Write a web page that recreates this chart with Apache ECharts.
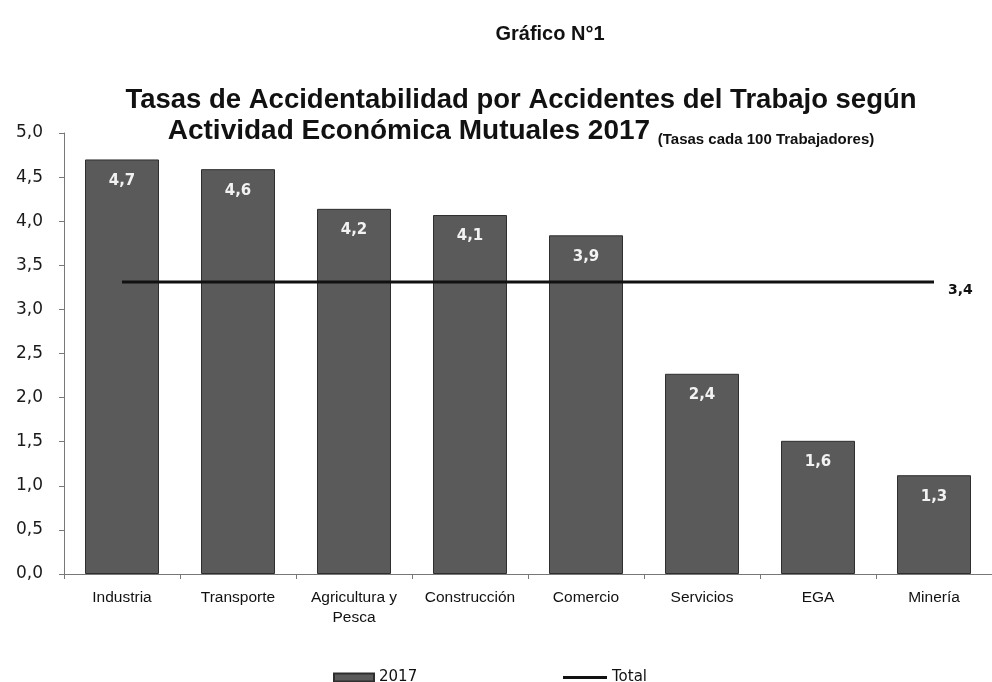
<!DOCTYPE html>
<html>
<head>
<meta charset="utf-8">
<script src="https://cdn.jsdelivr.net/npm/echarts@6/dist/echarts.min.js"></script>
<style>html,body{margin:0;padding:0;background:#fff;}#c{width:992px;height:682px;}</style>
</head>
<body>
<div id="c"></div>
<script>
var categories = ['Industria', 'Transporte', 'Agricultura y\nPesca', 'Construcción', 'Comercio', 'Servicios', 'EGA', 'Minería'];
// bar heights as drawn in the picture
var bars2017 = [4.70, 4.59, 4.14, 4.07, 3.84, 2.27, 1.51, 1.12];
// value labels printed on the bars
var barLabels = ['4,7', '4,6', '4,2', '4,1', '3,9', '2,4', '1,6', '1,3'];
// Total line as drawn, and its printed label
var totalLine = [3.31, 3.31, 3.31, 3.31, 3.31, 3.31, 3.31, 3.31];
var totalLabel = '3,4';
var yTicks = [0, 0.5, 1, 1.5, 2, 2.5, 3, 3.5, 4, 4.5, 5];

var chart = echarts.init(document.getElementById('c'));
chart.setOption({
  animation: false,
  backgroundColor: '#ffffff',
  title: [{
    text: 'Gráfico N°1',
    left: 545, top: 19, textAlign: 'center',
    textStyle: {fontFamily: 'Liberation Sans', fontWeight: 'bold', fontSize: 20, color: '#111'}
  }, {
    text: 'Tasas de Accidentabilidad por Accidentes del Trabajo según\n{a|Actividad Económica Mutuales 2017} {b|(Tasas cada 100 Trabajadores)}',
    left: 516, top: 80, textAlign: 'center',
    textStyle: {fontFamily: 'Liberation Sans', fontWeight: 'bold', fontSize: 27.5, color: '#111', lineHeight: 31,
      rich: {
        a: {fontFamily: 'Liberation Sans', fontWeight: 'bold', fontSize: 28, color: '#111', lineHeight: 31},
        b: {fontFamily: 'Liberation Sans', fontWeight: 'bold', fontSize: 15, color: '#111', lineHeight: 31, verticalAlign: 'bottom'}
      }
    }
  }],
  legend: [{
    left: 328, top: 665,
    itemWidth: 40, itemHeight: 8,
    textStyle: {fontFamily: 'DejaVu Sans', fontSize: 15, color: '#111'},
    data: [{name: '2017', icon: 'rect'}]
  }, {
    left: 558, top: 665,
    itemWidth: 44, itemHeight: 3,
    textStyle: {fontFamily: 'DejaVu Sans', fontSize: 15, color: '#111'},
    data: [{name: 'Total', icon: 'rect', itemStyle: {color: '#111'}}]
  }],
  grid: {left: 64, right: -8, top: 133, bottom: 108, containLabel: false},
  xAxis: {
    type: 'category',
    data: categories,
    boundaryGap: true,
    axisLine: {lineStyle: {color: '#777', width: 1}},
    axisTick: {show: true, alignWithLabel: false, length: 5, lineStyle: {color: '#777'}},
    axisLabel: {fontFamily: 'Liberation Sans', fontSize: 15.5, color: '#111', margin: 14, lineHeight: 20, interval: 0}
  },
  yAxis: {
    type: 'value',
    min: 0, max: 5, interval: 0.5,
    axisLine: {show: true, lineStyle: {color: '#777', width: 1}},
    axisTick: {show: true, length: 5, lineStyle: {color: '#777'}},
    splitLine: {show: false},
    axisLabel: {
      fontFamily: 'DejaVu Sans', fontSize: 17, color: '#1a1a1a', margin: 21,
      formatter: function (v) { return v.toFixed(1).replace('.', ','); }
    }
  },
  series: [{
    name: '2017',
    type: 'bar',
    data: bars2017,
    barWidth: 74,
    itemStyle: {color: '#5a5a5a', borderColor: '#2e2e2e', borderWidth: 1},
    label: {
      show: true, position: 'insideTop', distance: 14,
      fontFamily: 'DejaVu Sans', fontWeight: 'bold', fontSize: 15, color: '#f2f2f2',
      formatter: function (p) { return barLabels[p.dataIndex]; }
    },
    z: 2
  }, {
    name: 'Total',
    type: 'line',
    data: totalLine,
    symbol: 'none',
    lineStyle: {color: '#111', width: 3},
    itemStyle: {color: '#111'},
    label: {show: false},
    endLabel: {
      show: true, distance: 14,
      fontFamily: 'DejaVu Sans', fontWeight: 'bold', fontSize: 14, color: '#111',
      offset: [0, 8],
      formatter: function () { return totalLabel; }
    },
    z: 5
  }]
});
</script>
</body>
</html>
